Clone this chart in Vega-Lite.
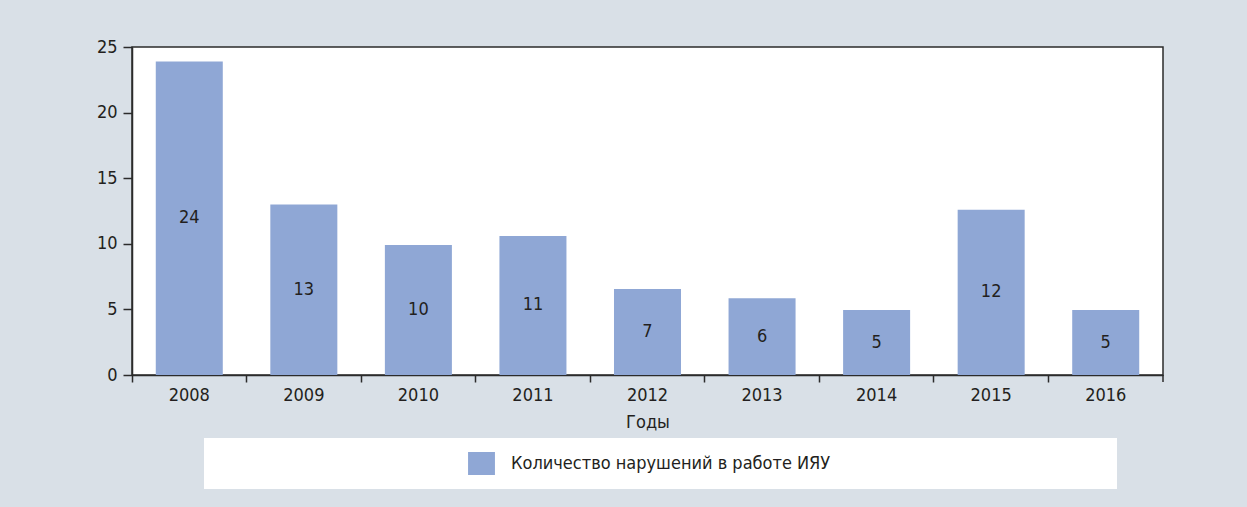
{
  "$schema": "https://vega.github.io/schema/vega-lite/v6.json",
  "width": 1031,
  "height": 328,
  "autosize": "none",
  "padding": {"left": 132, "top": 47, "right": 84, "bottom": 132},
  "background": "#d9e0e7",
  "config": {
    "font": "Liberation Sans Narrow, DejaVu Sans Condensed, sans-serif",
    "view": {"fill": "white", "stroke": "#2b2b2b", "strokeWidth": 1.5},
    "axis": {
      "domainColor": "#2b2b2b",
      "domainWidth": 1.5,
      "tickColor": "#2b2b2b",
      "tickWidth": 1.5,
      "labelColor": "#231f20",
      "labelFontSize": 18,
      "titleColor": "#231f20",
      "titleFontSize": 18,
      "titleFontWeight": "normal",
      "grid": false
    }
  },
  "data": {
    "values": [
      {"year": "2008", "value": 23.9, "label": 24},
      {"year": "2009", "value": 13.0, "label": 13},
      {"year": "2010", "value": 9.9, "label": 10},
      {"year": "2011", "value": 10.6, "label": 11},
      {"year": "2012", "value": 6.55, "label": 7},
      {"year": "2013", "value": 5.85, "label": 6},
      {"year": "2014", "value": 4.95, "label": 5},
      {"year": "2015", "value": 12.6, "label": 12},
      {"year": "2016", "value": 4.95, "label": 5}
    ]
  },
  "layer": [
    {
      "mark": {"type": "bar", "width": {"band": 0.585}},
      "encoding": {
        "x": {
          "field": "year",
          "type": "ordinal",
          "title": "Годы",
          "scale": {"paddingInner": 0, "paddingOuter": 0},
          "axis": {"labelAngle": 0, "bandPosition": 0, "tickSize": 7, "labelPadding": 4, "titlePadding": 9}
        },
        "y": {
          "field": "value",
          "type": "quantitative",
          "scale": {"domain": [0, 25], "nice": false},
          "axis": {"values": [0, 5, 10, 15, 20, 25], "tickSize": 9, "labelPadding": 6, "title": null}
        },
        "color": {
          "datum": "Количество нарушений в работе ИЯУ",
          "type": "nominal",
          "scale": {"range": ["#8fa7d5"]},
          "legend": {
            "orient": "none",
            "legendX": 72,
            "legendY": 391,
            "fillColor": "white",
            "padding": 14,
            "symbolType": "M-1.17,-1H1.17V1H-1.17Z",
            "symbolSize": 529,
            "symbolStrokeWidth": 0,
            "symbolOpacity": 1,
            "symbolOffset": 252,
            "labelOffset": 18,
            "labelFontSize": 18,
            "labelColor": "#231f20",
            "labelLimit": 0,
            "title": "x",
            "titleOrient": "right",
            "titleOpacity": 0,
            "titleFontSize": 1,
            "titlePadding": 272
          }
        }
      }
    },
    {
      "mark": {"type": "text", "fontSize": 18, "color": "#231f20"},
      "encoding": {
        "x": {"field": "year", "type": "ordinal"},
        "y": {"field": "value", "type": "quantitative", "stack": "zero", "bandPosition": 0.5},
        "text": {"field": "label"}
      }
    },
    {
      "mark": {"type": "rule", "color": "#2b2b2b", "strokeWidth": 1.5},
      "data": {"values": [{"year": "2016"}]},
      "encoding": {
        "x": {"field": "year", "type": "ordinal", "bandPosition": 1},
        "y": {"datum": 0},
        "y2": {"datum": -0.53}
      }
    }
  ]
}
